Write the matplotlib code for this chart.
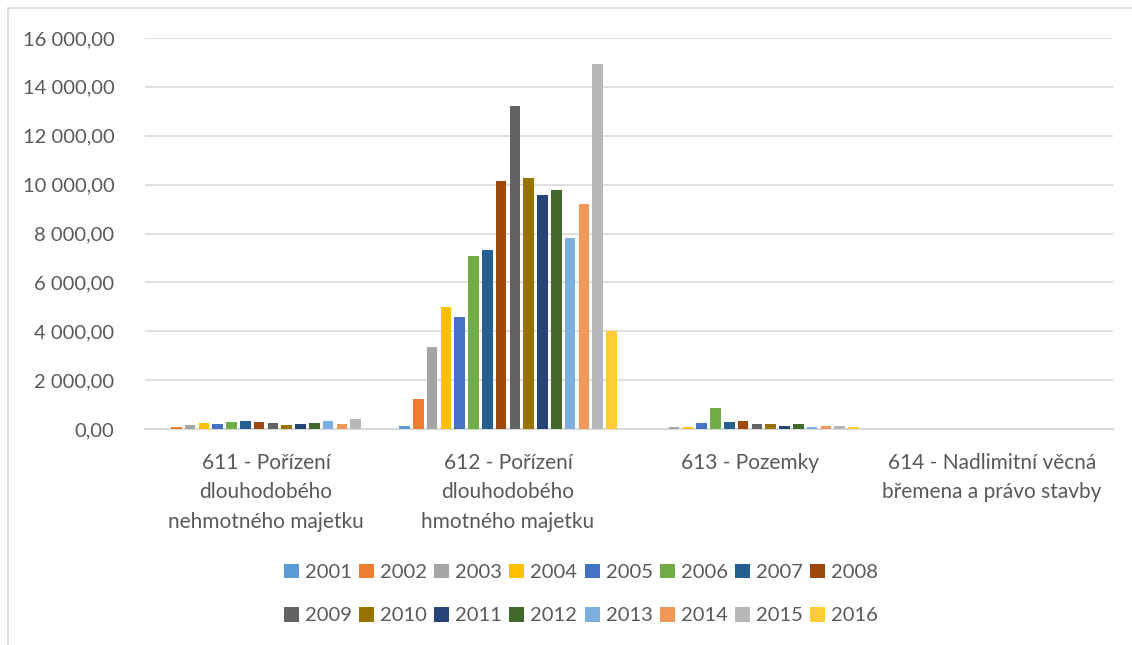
import matplotlib
matplotlib.use("Agg")
import matplotlib.pyplot as plt
import numpy as np
from matplotlib.ticker import FuncFormatter, MultipleLocator
from matplotlib.lines import Line2D
from matplotlib.patches import Patch

plt.rcParams['font.family'] = ['Lato', 'DejaVu Sans']

categories = [
    "611 - Pořízení\ndlouhodobého\nnehmotného majetku",
    "612 - Pořízení\ndlouhodobého\nhmotného majetku",
    "613 - Pozemky",
    "614 - Nadlimitní věcná\nbřemena a právo stavby",
]
years = [str(y) for y in range(2001, 2017)]

# values per year: [611, 612, 613, 614]
v2001 = [0, 137, 0, 0]
v2002 = [82, 1229, 0, 0]
v2003 = [155, 3358, 96, 0]
v2004 = [232, 4997, 96, 0]
v2005 = [218, 4587, 259, 0]
v2006 = [273, 7085, 860, 0]
v2007 = [328, 7331, 300, 0]
v2008 = [273, 10130, 341, 0]
v2009 = [232, 13201, 205, 0]
v2010 = [177, 10253, 205, 0]
v2011 = [191, 9570, 137, 0]
v2012 = [232, 9761, 205, 0]
v2013 = [341, 7823, 96, 0]
v2014 = [191, 9188, 137, 0]
v2015 = [396, 14922, 109, 0]
v2016 = [20, 4014, 96, 0]
series = [v2001, v2002, v2003, v2004, v2005, v2006, v2007, v2008,
          v2009, v2010, v2011, v2012, v2013, v2014, v2015, v2016]

colors = ["#5B9BD5", "#ED7D31", "#A5A5A5", "#FFC000", "#4472C4", "#70AD47",
          "#255E91", "#9E480E", "#636363", "#997300", "#264478", "#43682B",
          "#7CAFDD", "#F1975A", "#B7B7B7", "#FFCD33"]

W, H = 1132, 645
fig = plt.figure(figsize=(W / 100, H / 100), dpi=100)
ax = fig.add_axes([145 / W, 1 - 429 / H, (1113 - 145) / W, (429 - 38) / H])

x = np.arange(len(categories))
slot = 13.8 / 242
for i, (vals, col) in enumerate(zip(series, colors)):
    offs = (i - 7.5) * slot
    ax.bar(x + offs, vals, width=slot * 0.78, color=col, zorder=3,
           label=years[i])

ax.set_xlim(-0.5, 3.5)
ax.set_ylim(0, 16000)
ax.yaxis.set_major_locator(MultipleLocator(2000))


def fmt(v, pos):
    s = f"{v:,.2f}"
    return s.replace(",", " ").replace(".", ",")


ax.yaxis.set_major_formatter(FuncFormatter(fmt))
ax.grid(axis='y', color='#D9D9D9', linewidth=1.2, zorder=0)
for s in ['top', 'right', 'left']:
    ax.spines[s].set_visible(False)
ax.spines['bottom'].set_color('#D9D9D9')
ax.spines['bottom'].set_linewidth(1.5)
ax.tick_params(axis='y', length=0, pad=22, labelsize=14.5, labelcolor='#595959')
ax.tick_params(axis='x', length=0, pad=17, labelsize=15, labelcolor='#595959')
ax.set_xticks(x)
ax.set_xticklabels(categories, linespacing=1.6, va='top')

# legend laid out row by row (8 entries per row)
handles = [Patch(facecolor=c, edgecolor='none') for c in colors]
order = [j * 8 + k for k in range(8) for j in range(2)]
leg = fig.legend([handles[i] for i in order], [years[i] for i in order],
                 ncol=8, loc='center',
                 bbox_to_anchor=(581 / W, 1 - 594 / H), frameon=False,
                 fontsize=14.5, handlelength=0.75, handleheight=0.75,
                 handletextpad=0.3, columnspacing=0.35, labelspacing=1.3,
                 labelcolor='#595959')

# outer chart frame
fig.add_artist(Line2D([8 / W, 1], [1 - 8 / H, 1 - 8 / H], transform=fig.transFigure,
                      color='#D9D9D9', linewidth=1.2))
fig.add_artist(Line2D([8 / W, 8 / W], [0, 1 - 8 / H], transform=fig.transFigure,
                      color='#D9D9D9', linewidth=1.2))

fig.savefig("out.png", dpi=100, facecolor='white')
